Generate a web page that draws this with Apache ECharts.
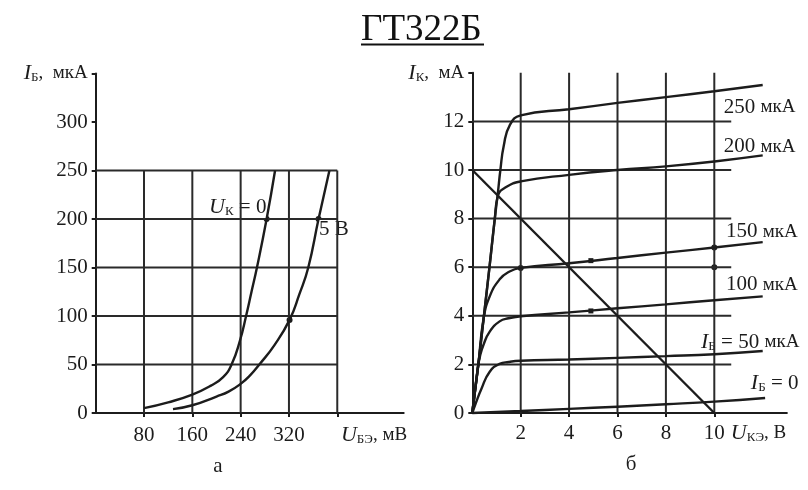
<!DOCTYPE html>
<html><head><meta charset="utf-8">
<script src="https://cdn.jsdelivr.net/npm/echarts@6/dist/echarts.min.js"></script>
<style>html,body{margin:0;padding:0;background:#fff}#c{width:808px;height:490px}</style>
</head><body><div id="c"></div>
<script>
// ---------- data ----------
const titleText = 'ГТ322Б';
const panelLabels = ['а', 'б'];

// panel а: I_Б (мкА) vs U_БЭ (мВ)
const leftXLabels = [80, 160, 240, 320];
const leftXTicks = [80, 160, 240, 320, 400];
const leftYLabels = [0, 50, 100, 150, 200, 250, 300];
const leftGridX = [80, 160, 240, 320, 400];
const leftGridY = [50, 100, 150, 200, 250];
const uk0X = [80, 120, 160, 190, 211, 225, 239, 249, 258, 267, 283, 297];
const uk0Y = [5, 11, 19, 28, 37, 50, 75, 100, 125, 150, 200, 250];
const uk5X = [128, 160, 200, 220, 240, 256, 271, 296, 321, 337, 352, 369, 387];
const uk5Y = [4, 8, 17, 22, 30, 39, 50, 70, 96, 122, 150, 200, 250];
const leftDotsX = [283, 369, 321];
const leftDotsY = [200, 200, 96];

// panel б: I_К (мА) vs U_КЭ (В)
const rightXLabels = [2, 4, 6, 8, 10];
const rightYLabels = [0, 2, 4, 6, 8, 10, 12];
const rightGridX = [2, 4, 6, 8, 10];
const rightGridY = [2, 4, 6, 8, 10, 12];
const ib0X = [0, 2, 4, 6, 8, 10, 12.1];
const ib0Y = [0, 0.08, 0.17, 0.26, 0.36, 0.47, 0.62];
const ib50X = [0, 0.15, 0.37, 0.72, 1.13, 1.5, 2, 4, 6, 8, 10, 12];
const ib50Y = [0, 0.42, 0.98, 1.7, 2.02, 2.1, 2.15, 2.2, 2.27, 2.34, 2.42, 2.55];
const ib100X = [0, 0.22, 0.32, 0.46, 0.72, 1.13, 1.5, 2, 4, 6, 8, 10, 12];
const ib100Y = [0, 1.8, 2.35, 2.8, 3.35, 3.77, 3.9, 3.98, 4.14, 4.31, 4.47, 4.64, 4.8];
const ib150X = [0, 0.25, 0.46, 0.72, 1.13, 1.5, 2, 4, 6, 8, 10, 12];
const ib150Y = [0, 2, 3.85, 4.8, 5.5, 5.8, 5.97, 6.16, 6.38, 6.6, 6.81, 7.03];
const ib200X = [0, 0.25, 0.48, 0.71, 0.93, 1.06, 1.4, 2, 4, 6, 8, 10, 12];
const ib200Y = [0, 2, 4, 6, 8, 8.94, 9.3, 9.53, 9.8, 10.0, 10.15, 10.35, 10.6];
const ib250X = [0, 0.25, 0.48, 0.71, 0.93, 1.05, 1.16, 1.3, 1.55, 2, 4, 6, 8, 10, 12];
const ib250Y = [0, 2, 4, 6, 8, 9, 10, 11, 11.85, 12.25, 12.5, 12.76, 13.0, 13.24, 13.5];
const loadX = [0, 10];
const loadY = [10, 0];
const rightDotsX = [2, 10, 10];
const rightDotsY = [5.97, 6.81, 6];
const rightCrossX = [4.9, 4.9];
const rightCrossY = [6.27, 4.2];

// ---------- styling ----------
const INK = '#1c1c1c';
const SERIF = '"Liberation Serif", "DejaVu Serif", serif';
const zip = (xs, ys) => xs.map((x, i) => [x, ys[i]]);

const rich = {
  it: { fontFamily: SERIF, fontStyle: 'italic', fontSize: 22, color: INK, lineHeight: 22 },
  sub: { fontFamily: SERIF, fontSize: 13, color: INK, verticalAlign: 'bottom', lineHeight: 12 },
  n: { fontFamily: SERIF, fontSize: 21, color: INK, lineHeight: 22 },
  sm: { fontFamily: SERIF, fontSize: 19, color: INK, lineHeight: 22 }
};

const notes = {
  uk0: '{it|U}{sub|К}{n| = 0}',
  uk5: '{n|5 В}',
  ube: '{it|U}{sub|БЭ}{sm|, мВ}',
  i250: '{n|250 }{sm|мкА}',
  i200: '{n|200 }{sm|мкА}',
  i150: '{n|150 }{sm|мкА}',
  i100: '{n|100 }{sm|мкА}',
  i50: '{it|I}{sub|Б}{n| = 50 }{sm|мкА}',
  i0: '{it|I}{sub|Б}{n| = 0}',
  uce: '{it|U}{sub|КЭ}{sm|, В}'
};

function gridSegs(vals, from, to, vertical, idx) {
  return vals.map(v => ({
    type: 'line', xAxisIndex: idx, yAxisIndex: idx, silent: true, symbol: 'none',
    clip: false, animation: false,
    lineStyle: { color: '#2a2a2a', width: 2 },
    data: vertical ? [[v, from], [v, to]] : [[from, v], [to, v]]
  }));
}

function curve(xs, ys, idx) {
  return {
    type: 'line', xAxisIndex: idx, yAxisIndex: idx, symbol: 'none', smooth: true,
    animation: false, clip: false,
    lineStyle: { color: INK, width: 2.4 },
    data: zip(xs, ys)
  };
}

function noteSeries(items, idx) {
  return {
    type: 'scatter', xAxisIndex: idx, yAxisIndex: idx, symbolSize: 0, clip: false,
    animation: false, silent: true, itemStyle: { opacity: 1 },
    label: {
      show: true, position: [0, 0], align: 'left', verticalAlign: 'middle',
      color: INK, opacity: 1,
      backgroundColor: '#fff', padding: [0, 1],
      formatter: p => notes[p.name], rich: rich
    },
    data: items.map(it => ({ name: it[0], value: [it[1], it[2]] }))
  };
}

function dots(xs, ys, idx, sym, size) {
  return {
    type: 'scatter', xAxisIndex: idx, yAxisIndex: idx, symbol: sym, symbolSize: size,
    itemStyle: { color: INK, opacity: 1 }, animation: false, silent: true, data: zip(xs, ys)
  };
}

const tickLabel = { fontFamily: SERIF, fontSize: 21, color: INK };
const axisLine = { show: true, onZero: false, lineStyle: { color: INK, width: 2 } };
const axisTick = { show: true, length: 4, lineStyle: { color: INK, width: 2 } };

const option = {
  backgroundColor: '#fff',
  animation: false,
  grid: [
    { left: 95.7, width: 308, top: 73.5, height: 339.5 },
    { left: 472.3, width: 314.6, top: 72.8, height: 340.2 }
  ],
  xAxis: [
    {
      gridIndex: 0, type: 'value', min: 0, max: 510, splitLine: { show: false },
      axisLine: axisLine,
      axisTick: Object.assign({}, axisTick, { customValues: leftXTicks }),
      axisLabel: Object.assign({}, tickLabel, { customValues: leftXLabels, margin: 12 })
    },
    {
      gridIndex: 1, type: 'value', min: 0, max: 13, splitLine: { show: false },
      axisLine: axisLine,
      axisTick: Object.assign({}, axisTick, { customValues: rightXLabels }),
      axisLabel: Object.assign({}, tickLabel, { customValues: rightXLabels, margin: 10 })
    }
  ],
  yAxis: [
    {
      gridIndex: 0, type: 'value', min: 0, max: 350, splitLine: { show: false },
      axisLine: axisLine,
      axisTick: Object.assign({}, axisTick, { customValues: leftYLabels.concat([350]) }),
      axisLabel: Object.assign({}, tickLabel, {
        customValues: leftYLabels.concat([350]), margin: 8, rich: rich,
        formatter: v => v === 350 ? '{it|I}{sub|Б}{sm|,  мкА}' : '{n|' + v + '}'
      })
    },
    {
      gridIndex: 1, type: 'value', min: 0, max: 14, splitLine: { show: false },
      axisLine: axisLine,
      axisTick: Object.assign({}, axisTick, { customValues: rightYLabels.concat([14]) }),
      axisLabel: Object.assign({}, tickLabel, {
        customValues: rightYLabels.concat([14]), margin: 8, rich: rich,
        formatter: v => v === 14 ? '{it|I}{sub|К}{sm|,  мА}' : '{n|' + v + '}'
      })
    }
  ],
  graphic: [
    { type: 'text', left: 361, top: 12, style: { text: titleText, font: '37px ' + SERIF, fill: '#111' } },
    { type: 'line', shape: { x1: 361, y1: 44.5, x2: 484, y2: 44.5 }, style: { stroke: '#111', lineWidth: 2 } },
    { type: 'text', x: 218, y: 466, style: { text: panelLabels[0], font: '21px ' + SERIF, fill: INK, align: 'center', verticalAlign: 'middle' } },
    { type: 'text', x: 631, y: 464, style: { text: panelLabels[1], font: '21px ' + SERIF, fill: INK, align: 'center', verticalAlign: 'middle' } }
  ],
  series: [
    ...gridSegs(leftGridX, 0, 250, true, 0),
    ...gridSegs(leftGridY, 0, 400, false, 0),
    ...gridSegs(rightGridX, 0, 14, true, 1),
    ...gridSegs(rightGridY, 0, 10.7, false, 1),
    curve(uk0X, uk0Y, 0),
    curve(uk5X, uk5Y, 0),
    dots(leftDotsX, leftDotsY, 0, 'circle', 6),
    curve(ib0X, ib0Y, 1),
    curve(ib50X, ib50Y, 1),
    curve(ib100X, ib100Y, 1),
    curve(ib150X, ib150Y, 1),
    curve(ib200X, ib200Y, 1),
    curve(ib250X, ib250Y, 1),
    Object.assign(curve(loadX, loadY, 1), { smooth: false }),
    dots(rightDotsX, rightDotsY, 1, 'circle', 6),
    dots(rightCrossX, rightCrossY, 1, 'rect', 5),
    noteSeries([['uk0', 186, 212], ['uk5', 368, 189], ['ube', 404.5, -22.7]], 0),
    noteSeries([['i250', 10.35, 12.59], ['i200', 10.35, 10.95], ['i150', 10.44, 7.45],
                ['i100', 10.44, 5.27], ['i50', 9.41, 2.92], ['i0', 11.47, 1.23],
                ['uce', 10.64, -0.82]], 1)
  ]
};

const chart = echarts.init(document.getElementById('c'), null, { renderer: 'canvas' });
chart.setOption(option);
</script>
</body></html>
